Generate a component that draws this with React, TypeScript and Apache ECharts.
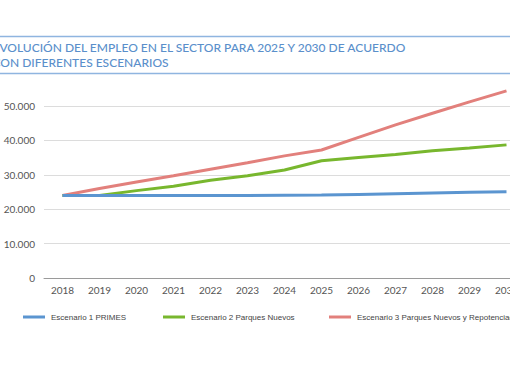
import React, { useEffect, useRef } from "react";
import * as echarts from "echarts";

const years = ["2018","2019","2020","2021","2022","2023","2024","2025","2026","2027","2028","2029","2030"];
const escenario1 = [24000,24000,24000,24000,24000,24000,24050,24100,24300,24500,24700,24900,25100];
const escenario2 = [24000,24000,25400,26700,28400,29700,31400,34100,35000,35900,37000,37800,38700];
const escenario3 = [24000,26000,27900,29700,31600,33500,35500,37200,40900,44500,47900,51200,54400];
const seriesNames = ["Escenario 1 PRIMES","Escenario 2 Parques Nuevos","Escenario 3 Parques Nuevos y Repotenciación"];
const titleLines = ["EVOLUCIÓN DEL EMPLEO EN EL SECTOR PARA 2025 Y 2030 DE ACUERDO","CON DIFERENTES ESCENARIOS"];

const colors = ["#5b95d0", "#78b72e", "#e2807c"];

export default function App() {
  const ref = useRef<HTMLDivElement>(null);
  useEffect(() => {
    if (!ref.current) return;
    const chart = echarts.init(ref.current, undefined, { renderer: "svg" });
    const datasets = [escenario1, escenario2, escenario3];
    chart.setOption({
      animation: false,
      backgroundColor: "#ffffff",
      graphic: [
        { type: "line", shape: { x1: 0, y1: 36.5, x2: 510, y2: 36.5 }, style: { stroke: "#8fb5e0", lineWidth: 1.5 } },
        { type: "line", shape: { x1: 0, y1: 73.5, x2: 510, y2: 73.5 }, style: { stroke: "#8fb5e0", lineWidth: 1.5 } },
        { type: "text", x: -7.5, y: 47, style: { text: titleLines[0], fill: "#5a8fcb", font: "500 12px Lato", verticalAlign: "middle" } },
        { type: "text", x: -7.5, y: 62, style: { text: titleLines[1], fill: "#5a8fcb", font: "500 12px Lato", verticalAlign: "middle" } },
      ],
      legend: [0, 1, 2].map((i) => ({
        data: [seriesNames[i]],
        left: [23, 163, 329][i],
        top: 313,
        padding: 0,
        icon: "rect",
        itemWidth: 22,
        itemHeight: 3,
        textStyle: { fontSize: 8, color: "#444", fontFamily: "Liberation Sans", padding: [0, 0, 0, 1] },
      })),
      grid: { left: 44, width: 481, top: 106, height: 172, containLabel: false, outerBoundsMode: "none" },
      xAxis: {
        type: "category",
        data: years,
        boundaryGap: true,
        axisLine: { show: true, lineStyle: { color: "#9a9a9a", width: 1 } },
        axisTick: { show: false },
        axisLabel: { color: "#555", fontSize: 10, fontFamily: "Lato", margin: 7 },
      },
      yAxis: {
        type: "value",
        min: 0,
        max: 50000,
        interval: 10000,
        axisLine: { show: false },
        axisTick: { show: false },
        splitLine: { lineStyle: { color: "#dcdcdc", width: 1 } },
        axisLabel: {
          color: "#555",
          fontSize: 10,
          fontFamily: "Lato",
          margin: 9,
          formatter: (v: number) => (v === 0 ? "0" : v.toLocaleString("de-DE")),
        },
      },
      series: datasets.map((d, i) => ({
        name: seriesNames[i],
        type: "line",
        data: d,
        clip: false,
        showSymbol: false,
        symbol: "none",
        lineStyle: { color: colors[i], width: 3 },
        itemStyle: { color: colors[i] },
        z: 3 - i,
      })),
    });
    return () => chart.dispose();
  }, []);
  return <div ref={ref} style={{ width: 510, height: 382, position: "absolute", left: 0, top: 0 }} />;
}
